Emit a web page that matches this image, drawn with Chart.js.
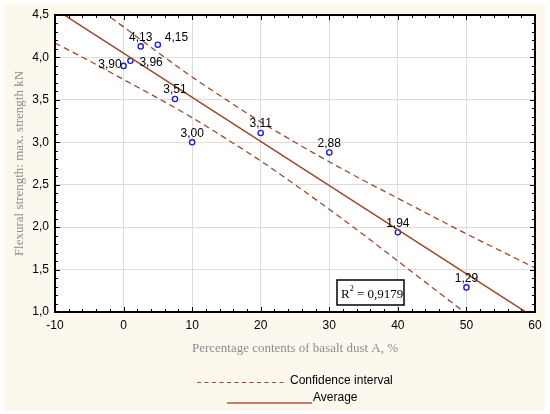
<!DOCTYPE html>
<html><head><meta charset="utf-8">
<script src="https://cdn.jsdelivr.net/npm/chart.js@4.4.1/dist/chart.umd.min.js"></script>
<style>html,body{margin:0;padding:0;background:#fff}#wrap{width:550px;height:414px}</style>
</head><body><div id="wrap"><canvas id="c" width="550" height="414"></canvas></div>
<script>
// ---- data ----
const pointX = [0, 1, 2.5, 5, 7.5, 10, 20, 30, 40, 50];
const pointY = [3.90, 3.96, 4.13, 4.15, 3.51, 3.00, 3.11, 2.88, 1.94, 1.29];
const labelPlace = ['left','right','top','upright','top','top','top','top','top','top'];
const fitX = [-10, 60];
const fitY = [4.57, 0.93];
const bandX = [-10, -5, 0, 5, 10, 15, 20, 25, 30, 35, 40, 45, 50, 55, 60];
const upperY = [4.97, 4.66, 4.36, 4.06, 3.77, 3.50, 3.24, 3.00, 2.77, 2.55, 2.34, 2.13, 1.92, 1.72, 1.52];
const lowerY = [4.17, 3.96, 3.74, 3.52, 3.29, 3.04, 2.78, 2.50, 2.21, 1.91, 1.60, 1.29, 0.98, 0.67, 0.35];
const xTicks = [-10, 0, 10, 20, 30, 40, 50, 60];
const yTicks = [1.0, 1.5, 2.0, 2.5, 3.0, 3.5, 4.0, 4.5];
const xTitle = 'Percentage contents of basalt dust A, %';
const yTitle = 'Flexural strength: max. strength kN';
const r2Text = '0,9179';
const legendItems = ['Confidence interval', 'Average'];

const LINE = '#9c4a2b';
const SANS = '"Liberation Sans", Arial, sans-serif';
const SERIF = '"Liberation Serif", "DejaVu Serif", serif';
const comma = v => Number(v).toFixed(2).replace('.', ',');

const xy = (xs, ys) => xs.map((x, i) => ({x, y: ys[i]}));

const deco = {
  id: 'deco',
  beforeDraw(chart) {
    const {ctx, chartArea: a} = chart;
    ctx.save();
    ctx.fillStyle = '#ffffff';
    ctx.fillRect(0, 0, chart.width, chart.height);
    ctx.fillStyle = '#fcf8ee';
    ctx.fillRect(4, 4, 541, 407);
    ctx.fillStyle = '#ffffff';
    ctx.fillRect(a.left, a.top, a.right - a.left, a.bottom - a.top);
    ctx.restore();
  },
  afterDatasetsDraw(chart) {
    const {ctx, chartArea: a} = chart;
    const xs = chart.scales.x, ys = chart.scales.y;
    ctx.save();
    // frame
    ctx.strokeStyle = '#000';
    ctx.lineWidth = 2;
    ctx.strokeRect(a.left, a.top, a.right - a.left, a.bottom - a.top);
    // minor / major ticks inward
    ctx.lineWidth = 1;
    ctx.beginPath();
    for (let v = -10; v <= 60.001; v += 2) {
      const p = Math.round(xs.getPixelForValue(v)) + 0.5;
      const L = (Math.abs(v % 10) < 0.001) ? 5 : 3;
      ctx.moveTo(p, a.bottom); ctx.lineTo(p, a.bottom - L);
      ctx.moveTo(p, a.top); ctx.lineTo(p, a.top + L);
    }
    for (let k = 10; k <= 45; k++) {
      const v = k / 10;
      const p = Math.round(ys.getPixelForValue(v)) + 0.5;
      const L = (k % 5 === 0) ? 5 : 3;
      ctx.moveTo(a.left, p); ctx.lineTo(a.left + L, p);
      ctx.moveTo(a.right, p); ctx.lineTo(a.right - L, p);
    }
    ctx.stroke();
    // point labels
    const meta = chart.getDatasetMeta(3);
    ctx.fillStyle = '#000';
    ctx.font = '12px ' + SANS;
    meta.data.forEach((el, i) => {
      const t = comma(pointY[i]);
      const pl = labelPlace[i];
      ctx.textBaseline = 'middle';
      if (pl === 'left') { ctx.textAlign = 'right'; ctx.fillText(t, el.x - 2, el.y - 1); }
      else if (pl === 'right') { ctx.textAlign = 'left'; ctx.fillText(t, el.x + 9, el.y + 2); }
      else if (pl === 'upright') { ctx.textAlign = 'left'; ctx.fillText(t, el.x + 7, el.y - 7); }
      else { ctx.textAlign = 'center'; ctx.fillText(t, el.x, el.y - 9); }
    });
    // R2 box
    ctx.fillStyle = '#fff';
    ctx.fillRect(337, 280, 67, 25);
    ctx.strokeStyle = '#000';
    ctx.lineWidth = 1.5;
    ctx.strokeRect(337, 280, 67, 25);
    ctx.fillStyle = '#000';
    ctx.textAlign = 'left';
    ctx.textBaseline = 'alphabetic';
    ctx.font = '13px ' + SERIF;
    ctx.fillText('R', 341, 298);
    const rw = ctx.measureText('R').width;
    ctx.font = '8px ' + SERIF;
    ctx.fillText('2', 341 + rw, 291);
    ctx.font = '13px ' + SERIF;
    ctx.fillText(' = ' + r2Text, 341 + rw + 4, 298);
    ctx.restore();
  },
  afterDraw(chart) {
    const {ctx, chartArea: a} = chart;
    ctx.save();
    // axis titles
    ctx.fillStyle = '#8c8c8c';
    ctx.font = '13px ' + SERIF;
    ctx.textAlign = 'center';
    ctx.textBaseline = 'middle';
    ctx.fillText(xTitle, (a.left + a.right) / 2, 349);
    ctx.translate(20, (a.top + a.bottom) / 2);
    ctx.rotate(-Math.PI / 2);
    ctx.fillText(yTitle, 0, 0);
    ctx.restore();
    // legend
    ctx.save();
    ctx.strokeStyle = LINE;
    ctx.lineWidth = 1;
    ctx.setLineDash([4, 3.5]);
    ctx.beginPath(); ctx.moveTo(197, 382.5); ctx.lineTo(287, 382.5); ctx.stroke();
    ctx.setLineDash([]);
    ctx.strokeStyle = '#b5573a';
    ctx.lineWidth = 1.5;
    ctx.beginPath(); ctx.moveTo(227, 403); ctx.lineTo(312, 403); ctx.stroke();
    ctx.fillStyle = '#000';
    ctx.font = '12px ' + SANS;
    ctx.textAlign = 'left';
    ctx.textBaseline = 'middle';
    ctx.fillText(legendItems[0], 290, 381);
    ctx.fillText(legendItems[1], 313, 398);
    ctx.restore();
  }
};

new Chart(document.getElementById('c'), {
  type: 'scatter',
  data: {
    datasets: [
      { type: 'line', label: 'upper', data: xy(bandX, upperY), borderColor: LINE, borderWidth: 1.3,
        borderDash: [6, 4], pointRadius: 0, fill: false, cubicInterpolationMode: 'monotone' },
      { type: 'line', label: 'lower', data: xy(bandX, lowerY), borderColor: LINE, borderWidth: 1.3,
        borderDash: [6, 4], pointRadius: 0, fill: false, cubicInterpolationMode: 'monotone' },
      { type: 'line', label: 'Average', data: xy(fitX, fitY), borderColor: LINE, borderWidth: 1.5,
        pointRadius: 0, fill: false },
      { label: 'points', data: xy(pointX, pointY), pointRadius: 2.6, borderWidth: 1.4,
        borderColor: '#1f1fd6', backgroundColor: '#ffffff' }
    ]
  },
  options: {
    responsive: false,
    animation: false,
    devicePixelRatio: 1,
    layout: { padding: { left: 0, top: 15, right: 15, bottom: 0 } },
    plugins: { legend: { display: false }, tooltip: { enabled: false } },
    scales: {
      x: {
        type: 'linear', min: -10, max: 60,
        afterBuildTicks: s => { s.ticks = xTicks.map(v => ({value: v})); },
        afterFit: s => { s.height = 102; },
        grid: { color: '#dcdcdc', lineWidth: 1, drawTicks: false },
        border: { display: false },
        ticks: { color: '#000', font: { family: SANS, size: 12 }, padding: 6, maxRotation: 0,
                 callback: v => String(v) }
      },
      y: {
        type: 'linear', min: 1, max: 4.5,
        afterBuildTicks: s => { s.ticks = yTicks.map(v => ({value: v})); },
        afterFit: s => { s.width = 55; },
        grid: { color: '#dcdcdc', lineWidth: 1, drawTicks: false },
        border: { display: false },
        ticks: { color: '#000', font: { family: SANS, size: 12 }, padding: 6,
                 callback: v => Number(v).toFixed(1).replace('.', ',') }
      }
    }
  },
  plugins: [deco]
});
</script>
</body></html>
